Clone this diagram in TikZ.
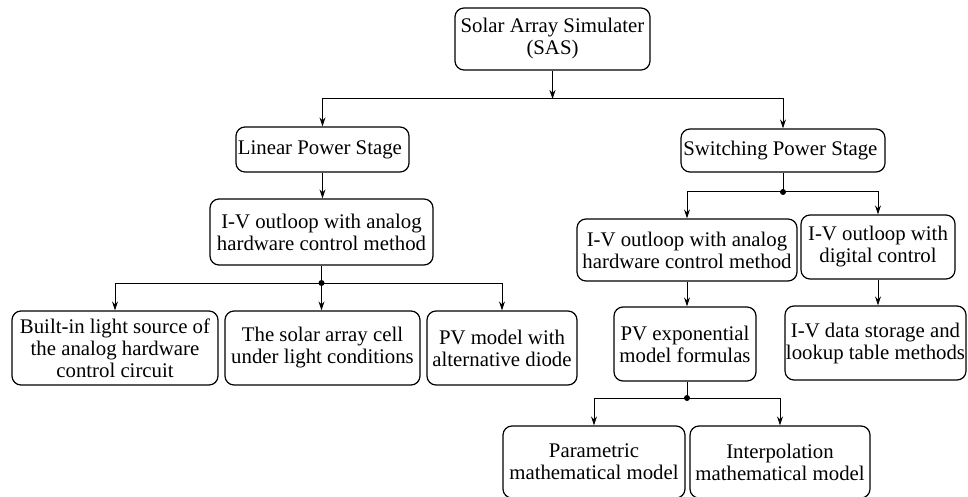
\documentclass[tikz,border=0pt]{standalone}
\usepackage{fontspec}
\setmainfont{Liberation Serif}
\usetikzlibrary{calc,positioning,arrows.meta}

\begin{document}
\begin{tikzpicture}[
  x=0.5pt, y=-0.5pt,
  block/.style={draw, rounded corners=4.5pt, line width=0.6pt, align=center,
    inner sep=0pt, font=\fontsize{10.4}{11}\selectfont},
  arr/.style={-{Stealth[length=4.5pt,width=3pt]}, line width=0.5pt},
  dot/.style={circle, fill, inner sep=0pt, minimum size=3pt}
]
  \useasboundingbox (0,0) rectangle (968,497);

  % top level
  \node[block, minimum width=97.5pt, minimum height=31pt] (sas) at (552.5,39) {
    Solar Array Simulater\\
    (SAS)
  };
  \node[block, minimum width=86.5pt, minimum height=22.5pt] (linear) at (322.5,149.5) {
    Linear Power Stage
  };
  \node[block, minimum width=102pt, minimum height=21.5pt] (switching) at (783,150.5) {
    Switching Power Stage
  };

  % linear branch
  \node[block, minimum width=111.5pt, minimum height=33pt] (ivleft) at (321.5,232) {
    I-V outloop with analog\\
    hardware control method
  };
  \node[block, minimum width=103pt, minimum height=37pt] (builtin) at (115,348) {
    Built-in light source of\\
    the analog hardware\\
    control circuit
  };
  \node[block, minimum width=97.5pt, minimum height=37pt] (cell) at (322.5,348) {
    The solar array cell\\
    under light conditions
  };
  \node[block, minimum width=75pt, minimum height=37pt] (pvdiode) at (502,348) {
    PV model with\\
    alternative diode
  };

  % switching branch
  \node[block, minimum width=110pt, minimum height=31pt] (ivright) at (687,250) {
    I-V outloop with analog\\
    hardware control method
  };
  \node[block, minimum width=77pt, minimum height=32pt] (ivdigital) at (878,247) {
    I-V outloop with\\
    digital control
  };
  \node[block, minimum width=71pt, minimum height=37pt] (pvexp) at (685,344) {
    PV exponential\\
    model formulas
  };
  \node[block, minimum width=90.5pt, minimum height=37pt] (ivdata) at (875.5,343) {
    I-V data storage and\\
    lookup table methods
  };
  \node[block, minimum width=91pt, minimum height=36pt] (parametric) at (594,462) {
    Parametric\\
    mathematical model
  };
  \node[block, minimum width=90pt, minimum height=36pt] (interp) at (780,462) {
    Interpolation\\
    mathematical model
  };

  % junctions
  \coordinate (jtop) at (sas.south |- 0,99);
  \coordinate (jlin) at (ivleft.south |- 0,283);
  \coordinate (jsw) at (switching.south |- 0,192);
  \coordinate (jexp) at (ivright.south |- 0,398);
  \node[dot] (dlin) at (jlin) {};
  \node[dot] (dsw) at (jsw) {};
  \node[dot] (dexp) at (jexp) {};

  % connectors
  \draw[arr] (sas.south) -- (jtop);
  \draw[arr] (jtop) -| (linear.north);
  \draw[arr] (jtop) -| (switching.north);

  \draw[arr] (linear.south) -- (ivleft.north -| linear.south);
  \draw (ivleft.south) -- (dlin.center);
  \draw[arr] (dlin.center) -| (builtin.north);
  \draw[arr] (dlin.center) -- (dlin.center |- cell.north);
  \draw[arr] (dlin.center) -| (pvdiode.north);

  \draw (switching.south) -- (dsw.center);
  \draw[arr] (dsw.center) -| (ivright.north);
  \draw[arr] (dsw.center) -| (ivdigital.north);
  \draw[arr] (ivright.south) -- (ivright.south |- pvexp.north);
  \draw[arr] (ivdigital.south) -- (ivdigital.south |- ivdata.north);

  \draw (ivright.south |- pvexp.south) -- (dexp.center);
  \draw[arr] (dexp.center) -| (parametric.north);
  \draw[arr] (dexp.center) -| (interp.north);
\end{tikzpicture}
\end{document}
